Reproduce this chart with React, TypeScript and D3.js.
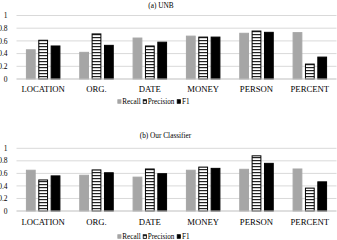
import React from "react";
import * as d3 from "d3";

const categories = ["LOCATION", "ORG.", "DATE", "MONEY", "PERSON", "PERCENT"];
const seriesNames = ["Recall", "Precision", "F1"];
const unbRecall = [0.46, 0.42, 0.645, 0.675, 0.72, 0.73];
const unbPrecision = [0.61, 0.71, 0.52, 0.66, 0.755, 0.235];
const unbF1 = [0.52, 0.53, 0.58, 0.66, 0.735, 0.345];
const oursRecall = [0.65, 0.57, 0.54, 0.65, 0.665, 0.67];
const oursPrecision = [0.495, 0.655, 0.67, 0.7, 0.88, 0.365];
const oursF1 = [0.56, 0.61, 0.595, 0.68, 0.76, 0.465];
const yTicks = [0, 0.2, 0.4, 0.6, 0.8, 1];
const yTickLabels = ["0", "0.2", "0.4", "0.6", "0.8", "1"];
const titles = ["(a)  UNB", "(b) Our Classifier"];

const W = 337;
const H = 240;
const FONT = "'Liberation Serif', 'Times New Roman', serif";
const plotLeft = 16.5;
const plotRight = 336.5;

type PanelProps = {
  id: string;
  title: string;
  titleX: number;
  values: number[][];
  y0: number;
  y1: number;
  titleY: number;
  labelY: number;
  legendY: number;
};

function Panel({ id, title, titleX, values, y0, y1, titleY, labelY, legendY }: PanelProps) {
  const x = d3.scaleBand<string>().domain(categories).range([plotLeft, plotRight]).padding(0);
  const bw = x.bandwidth();
  const groupW = 34.5;
  const inner = d3
    .scaleBand<string>()
    .domain(seriesNames)
    .range([(bw - groupW) / 2, (bw + groupW) / 2])
    .paddingInner(0.21)
    .paddingOuter(0);
  const y = d3.scaleLinear().domain([0, 1]).range([y0, y1]);
  const fills = ["#a6a6a6", `url(#stripes-${id})`, "#000000"];
  const strokes = ["#a6a6a6", "#000", "#000"];

  const legendItems = [
    { name: "Recall", sx: 117.3, tx: 122.3 },
    { name: "Precision", sx: 142.7, tx: 147.7 },
    { name: "F1", sx: 176.7, tx: 182 },
  ];

  return (
    <g>
      <defs>
        <pattern id={`stripes-${id}`} patternUnits="userSpaceOnUse" width="4" height="3" y={y0}>
          <rect x="0" y="0" width="4" height="3" fill="#fff" />
          <rect x="0" y="0" width="4" height="1.2" fill="#222" />
        </pattern>
      </defs>
      <text x={titleX} y={titleY} fontSize={7.3} fontFamily={FONT} textAnchor="middle" fill="#000">
        {title}
      </text>
      {yTicks.map((t, i) =>
        t === 0 ? null : (
          <line key={"g" + i} x1={plotLeft} x2={plotRight} y1={y(t)} y2={y(t)} stroke="#d9d9d9" strokeWidth={1} />
        )
      )}
      {yTicks.map((t, i) => (
        <text
          key={"t" + i}
          x={7.5}
          y={y(t) + 2.6}
          fontSize={7.5}
          fontFamily={FONT}
          textAnchor="end"
          fill="#000"
        >
          {yTickLabels[i]}
        </text>
      ))}
      {categories.map((c, ci) => (
        <g key={c} transform={`translate(${x(c)},0)`}>
          {seriesNames.map((s, si) => {
            const v = values[si][ci];
            return (
              <rect
                key={s}
                x={(inner(s) as number) + 0.5}
                y={y(v)}
                width={inner.bandwidth() - 1}
                height={y0 - y(v)}
                fill={fills[si]}
                stroke={strokes[si]}
                strokeWidth={1}
              />
            );
          })}
          <text x={bw / 2} y={labelY} fontSize={8.7} fontFamily={FONT} textAnchor="middle" fill="#000">
            {c}
          </text>
        </g>
      ))}
      <line x1={plotLeft} x2={plotRight} y1={y0} y2={y0} stroke="#bfbfbf" strokeWidth={1} />
      {legendItems.map((it, i) => (
        <g key={it.name}>
          <rect
            x={it.sx + 0.5}
            y={legendY - 2}
            width={3.2}
            height={3.6}
            fill={fills[i]}
            stroke={strokes[i]}
            strokeWidth={0.8}
          />
          <text x={it.tx} y={legendY + 2.5} fontSize={7.2} fontFamily={FONT} fill="#000">
            {it.name}
          </text>
        </g>
      ))}
    </g>
  );
}

export default function App() {
  return (
    <svg
      width={W}
      height={H}
      style={{ position: "absolute", left: 0, top: 0, background: "#fff" }}
    >
      <rect width={W} height={H} fill="#fff" />
      <Panel
        id="a"
        title={titles[0]}
        titleX={161}
        values={[unbRecall, unbPrecision, unbF1]}
        y0={79}
        y1={15.5}
        titleY={8.3}
        labelY={92.3}
        legendY={101.7}
      />
      <Panel
        id="b"
        title={titles[1]}
        titleX={165.5}
        values={[oursRecall, oursPrecision, oursF1]}
        y0={211}
        y1={148.3}
        titleY={137.5}
        labelY={224.7}
        legendY={236.7}
      />
    </svg>
  );
}
